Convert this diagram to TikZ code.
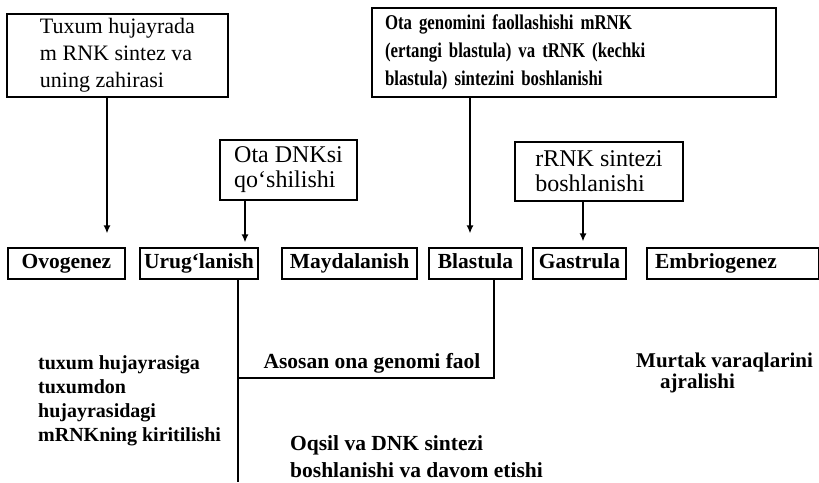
\documentclass[tikz,border=0pt]{standalone}
\usepackage{fontspec}
\setmainfont{Liberation Serif}
\newfontfamily\condfont[FakeStretch=0.8]{Liberation Serif}
\usetikzlibrary{arrows.meta}

\begin{document}
\begin{tikzpicture}[x=1pt, y=-1pt,
        box/.style={draw, line width=1.2pt, inner sep=0pt, align=left},
        stage/.style={draw, line width=1.2pt, inner sep=0pt, minimum height=31pt,
            text height=15pt, text depth=5pt, font=\fontsize{21.5}{24}\selectfont\bfseries},
        note/.style={inner sep=0pt, align=left, font=\fontsize{21.5}{24}\selectfont\bfseries},
        arrow/.style={-{Latex[length=8pt,width=7pt]}, line width=1.5pt},
        line/.style={line width=1.5pt}
    ]
    \useasboundingbox (0,0) rectangle (819,482);

    % Upper boxes
    \node[box, minimum width=221pt, minimum height=83pt, font=\fontsize{22}{27}\selectfont] (tuxum) at (117.5,55.5)
        {Tuxum hujayrada\\m RNK sintez va\\uning zahirasi};
    \node[box, minimum height=89pt, inner xsep=13pt, text width=378pt, font=\condfont\fontsize{21}{28}\selectfont\bfseries] (otagen) at (574,52.5)
        {Ota genomini faollashishi mRNK\\(ertangi blastula) va tRNK (kechki\\blastula) sintezini boshlanishi};
    \node[box, minimum width=137pt, minimum height=60pt, font=\fontsize{24}{25}\selectfont] (otadnk) at (288.5,170)
        {Ota DNKsi\\qo‘shilishi};
    \node[box, minimum width=168pt, minimum height=59pt, font=\fontsize{24}{25}\selectfont] (rrnk) at (599,171.5)
        {rRNK sintezi\\boshlanishi};

    % Stages
    \node[stage, minimum width=117pt] (ovo) at (66.5,263.5) {Ovogenez};
    \node[stage, minimum width=118pt] (urug) at (199,263.5) {Urug‘lanish};
    \node[stage, minimum width=135pt] (mayd) at (349.5,263.5) {Maydalanish};
    \node[stage, minimum width=93pt] (blast) at (475.5,263.5) {Blastula};
    \node[stage, minimum width=93pt] (gast) at (579.5,263.5) {Gastrula};
    \node[stage, inner xsep=8pt, text width=156pt, align=left] (embr) at (733,263.5) {Embriogenez};

    % Arrows
    \draw[arrow, shorten >=14pt] ([xshift=-10.5pt]tuxum.south) -- ([xshift=-10.5pt]tuxum.south |- ovo.north);
    \draw[arrow, shorten >=5pt] ([xshift=-43.5pt]otadnk.south) -- ([xshift=-43.5pt]otadnk.south |- urug.north);
    \draw[arrow, shorten >=14pt] ([xshift=-104pt]otagen.south) -- ([xshift=-104pt]otagen.south |- blast.north);
    \draw[arrow, shorten >=6pt] ([xshift=-16pt]rrnk.south) -- ([xshift=-16pt]rrnk.south |- gast.north);

    % Notes
    \node[note, anchor=north west, font=\fontsize{20}{24}\selectfont\bfseries] (tuxnote) at (38,355)
        {tuxum hujayrasiga\\tuxumdon\\hujayrasidagi\\mRNKning kiritilishi};
    \node[note, inner ysep=5pt, anchor=south] (faol) at (372,378) {Asosan ona genomi faol};
    \node[note, anchor=north west, font=\fontsize{21.5}{27}\selectfont\bfseries] (oqsil) at (290,435)
        {Oqsil va DNK sintezi\\boshlanishi va davom etishi};
    \node[note, anchor=north west, font=\fontsize{21}{21}\selectfont\bfseries] (murtak) at (636,353)
        {Murtak varaqlarini\\\hspace*{24pt}ajralishi};

    % Lines
    \coordinate (bottom) at (238,482);
    \draw[line] (urug.south -| bottom) -- (bottom);
    \draw[line] ([xshift=18.5pt]blast.south) |- (faol.south -| bottom);
\end{tikzpicture}
\end{document}
